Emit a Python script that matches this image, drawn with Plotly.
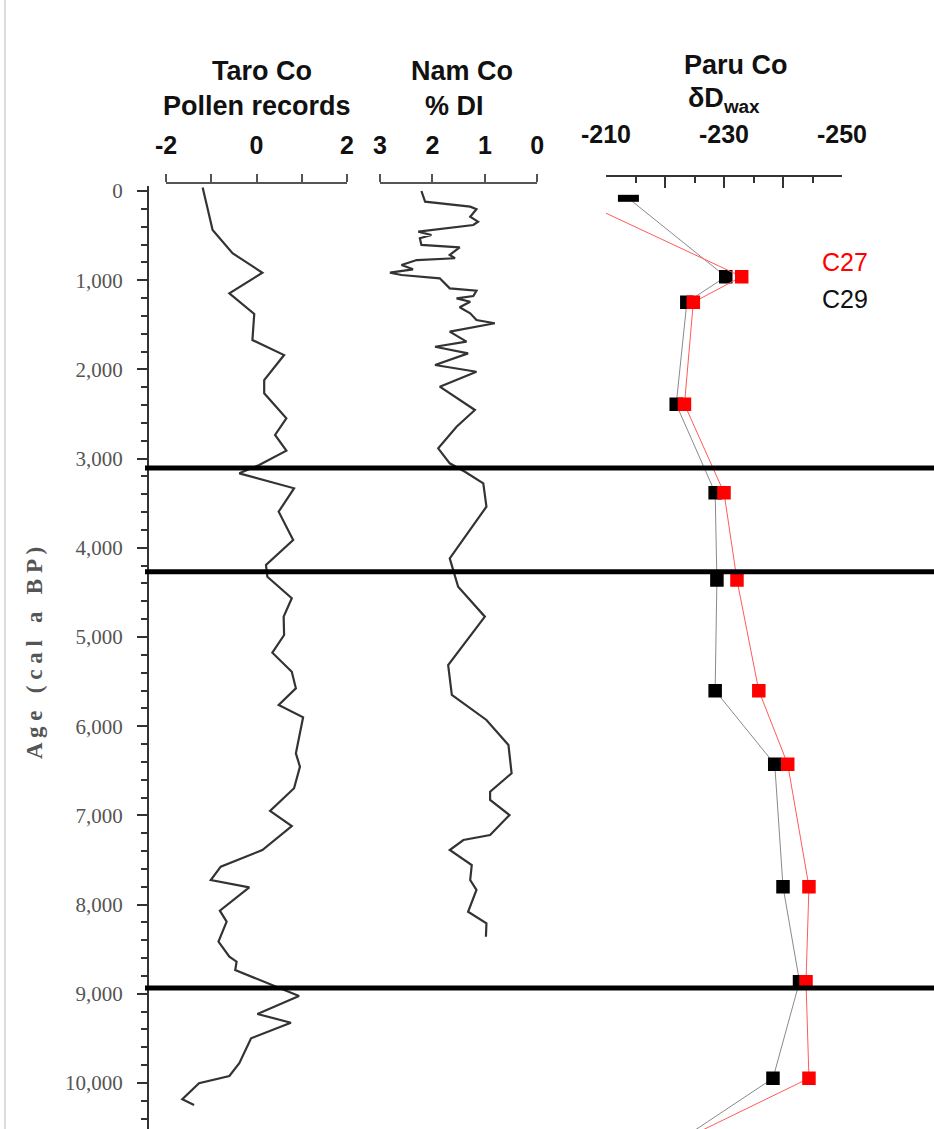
import plotly.graph_objects as go

# ---------------- data ----------------
taro_age = [-40, 437, 698, 916, 1147, 1379, 1670, 1839, 2119, 2268,
            2548, 2735, 2911, 3072, 3165, 3333, 3595, 3913, 4193, 4324,
            4566, 4772, 4978, 5176, 5389, 5575, 5762, 5900, 6304, 6454,
            6696, 6950, 7119, 7388, 7575, 7724, 7806, 8068, 8191, 8416,
            8584, 8640, 8733, 8913, 9025, 9226, 9324, 9499, 9779, 9922,
            10003, 10183, 10247]
taro_pollen = [-1.19, -0.97, -0.53, 0.13, -0.60, -0.05, -0.09, 0.61, 0.17, 0.17,
               0.66, 0.41, 0.66, 0.06, -0.38, 0.83, 0.49, 0.81, 0.21, 0.24,
               0.78, 0.60, 0.61, 0.35, 0.78, 0.87, 0.49, 1.03, 0.87, 0.96,
               0.83, 0.30, 0.78, 0.13, -0.79, -1.01, -0.16, -0.81, -0.66, -0.84,
               -0.60, -0.44, -0.47, 0.39, 0.94, 0.02, 0.76, -0.12, -0.38, -0.60,
               -1.27, -1.64, -1.38]

nam_age = [0, 120, 176, 205, 288, 344, 381, 456, 493, 530,
           605, 631, 717, 754, 774, 830, 878, 916, 942, 979,
           1091, 1118, 1177, 1203, 1241, 1304, 1371, 1446, 1483, 1577,
           1689, 1746, 1820, 1951, 2026, 2194, 2455, 2642, 2885, 3053,
           3147, 3277, 3539, 4118, 4436, 4772, 5314, 5650, 5930, 6211,
           6528, 6734, 6827, 6996, 7220, 7276, 7388, 7556, 7724, 7836,
           8080, 8210, 8360]
nam_di = [2.21, 2.14, 1.28, 1.16, 1.28, 1.13, 1.22, 2.27, 2.02, 2.24,
          2.21, 1.48, 1.67, 1.57, 2.30, 2.59, 2.37, 2.81, 2.59, 1.86,
          1.67, 1.16, 1.22, 1.54, 1.28, 1.48, 1.28, 1.16, 0.81, 1.67,
          1.35, 1.95, 1.32, 1.95, 1.16, 1.86, 1.19, 1.54, 1.89, 1.67,
          1.38, 1.03, 0.97, 1.67, 1.51, 1.00, 1.70, 1.63, 0.97, 0.55,
          0.49, 0.90, 0.90, 0.53, 0.90, 1.41, 1.67, 1.25, 1.28, 1.16,
          1.32, 0.97, 0.98]

paru_age = [82, 960, 1248, 2392, 3382, 4361, 5602, 6427, 7799, 8864, 9947, 10800]
paru_c29 = [-213.8, -230.3, -223.7, -221.9, -228.5, -228.8, -228.5, -238.6, -240.0, -242.8, -238.3, -218.9]
paru_c27 = [-204.6, -233.0, -224.8, -223.3, -230.0, -232.2, -235.9, -240.8, -244.4, -243.9, -244.4, -217.9]

boundary_ages = [3105, 4268, 8935]

taro_ticks = [-2, 0, 2]
taro_ticktext = ["-2", "0", "2"]
taro_minor = [-1, 1]
nam_ticks = [3, 2, 1, 0]
nam_ticktext = ["3", "2", "1", "0"]
paru_ticks = [-210, -230, -250]
paru_ticktext = ["-210", "-230", "-250"]
paru_mid = [-220, -240]
paru_minor = [-215, -225, -235, -245]

# ---------------- layout helpers ----------------
W, H = 934, 1129
def px(x):
    return x / W
def py(y):
    return 1 - y / H

AGE0_PX = 191.0      # pixel row of age 0
PX_PER_YR = 0.0892   # pixels per year
def age_at(pix):
    return (pix - AGE0_PX) / PX_PER_YR

SANS = "Liberation Sans, Arial, sans-serif"
SERIF = "Liberation Serif, Times New Roman, serif"

fig = go.Figure()

fig.add_trace(go.Scatter(x=taro_pollen, y=taro_age, xaxis="x", yaxis="y",
                         mode="lines", line=dict(color="#333333", width=2.2),
                         hoverinfo="skip"))
fig.add_trace(go.Scatter(x=nam_di, y=nam_age, xaxis="x2", yaxis="y",
                         mode="lines", line=dict(color="#333333", width=2.2),
                         hoverinfo="skip"))

n = len(paru_age)
fig.add_trace(go.Scatter(x=paru_c29, y=paru_age, xaxis="x3", yaxis="y",
                         mode="lines+markers",
                         line=dict(color="#8a8a8a", width=1),
                         marker=dict(color="#000000", opacity=1,
                                     symbol=["line-ew"] + ["square"] * (n - 1),
                                     size=[15] + [12] * (n - 1),
                                     line=dict(color="#000000", width=[7] + [1.5] * (n - 1))),
                         hoverinfo="skip"))
fig.add_trace(go.Scatter(x=paru_c27, y=paru_age, xaxis="x3", yaxis="y",
                         mode="lines+markers",
                         line=dict(color="#ff5a5a", width=1),
                         marker=dict(color="#ff0000", symbol="square", size=12, opacity=1,
                                     line=dict(color="#ff0000", width=1.5)),
                         hoverinfo="skip"))

top_axis_common = dict(anchor="free", side="top", showline=True, showgrid=False,
                       zeroline=False, tickwidth=2, linewidth=2, automargin=False,
                       tickfont=dict(family=SANS, size=25, color="#111111", weight="bold"))

fig.update_layout(
    width=W, height=H,
    margin=dict(l=0, r=0, t=0, b=0, pad=0, autoexpand=False),
    paper_bgcolor="white", plot_bgcolor="rgba(0,0,0,0)",
    showlegend=False,
    xaxis=dict(domain=[px(166), px(347)], range=[-2, 2], position=py(183),
               linecolor="#555555", tickcolor="#555555", ticks="outside", ticklen=8,
               tickvals=taro_ticks, ticktext=taro_ticktext, ticklabelstandoff=10,
               minor=dict(tickvals=taro_minor, ticks="outside", ticklen=8,
                          tickcolor="#555555", tickwidth=2),
               **top_axis_common),
    xaxis2=dict(domain=[px(380), px(537.3)], range=[3, 0], position=py(183),
                linecolor="#555555", tickcolor="#555555", ticks="outside", ticklen=8,
                tickvals=nam_ticks, ticktext=nam_ticktext, ticklabelstandoff=10,
                **top_axis_common),
    xaxis3=dict(domain=[px(606), px(842)], range=[-210, -250], position=py(176),
                linecolor="#333333", tickcolor="#333333", ticks="inside", ticklen=11,
                tickvals=paru_ticks, ticktext=paru_ticktext, ticklabelstandoff=22,
                minor=dict(tickvals=paru_minor, ticks="inside", ticklen=6,
                           tickcolor="#333333", tickwidth=2),
                **top_axis_common),
    xaxis4=dict(domain=[px(606), px(842)], range=[-210, -250], overlaying="x3",
                anchor="free", position=py(176), side="top", showline=False,
                showgrid=False, zeroline=False, automargin=False,
                ticks="inside", ticklen=11, tickwidth=2, tickcolor="#333333",
                tickvals=paru_mid, showticklabels=False),
    yaxis=dict(domain=[0, py(186)], range=[age_at(H), age_at(186)],
               anchor="free", position=px(148), side="left", automargin=False,
               showline=True, linecolor="#333333", linewidth=2,
               showgrid=False, zeroline=False,
               ticks="outside", ticklen=10, tickwidth=2, tickcolor="#333333",
               tick0=0, dtick=1000, tickformat=",d",
               minor=dict(dtick=200, ticks="outside", ticklen=6,
                          tickcolor="#333333", tickwidth=2),
               tickfont=dict(family=SERIF, size=21, color="#555555"),
               ticklabelstandoff=10),
)

# invisible helper trace so the mid-tick axis is drawn
fig.add_trace(go.Scatter(x=[None], y=[None], xaxis="x4", yaxis="y",
                         mode="lines", hoverinfo="skip", showlegend=False))

# thick horizontal boundaries
for a in boundary_ages:
    fig.add_shape(type="line", xref="paper", yref="y", x0=px(145), x1=1,
                  y0=a, y1=a, line=dict(color="black", width=5), layer="above")

# faint left border
fig.add_shape(type="line", xref="paper", yref="paper", x0=px(5), x1=px(5),
              y0=0, y1=1, line=dict(color="#dcdcdc", width=2))

def ann(text, x, y, size, color="#111111", bold=True, family=SANS, xanchor="center", angle=0):
    fig.add_annotation(text=("<b>%s</b>" % text) if bold else text,
                       x=px(x), y=py(y), xref="paper", yref="paper",
                       xanchor=xanchor, yanchor="middle", showarrow=False,
                       textangle=angle,
                       font=dict(family=family, size=size, color=color))

NB = "\u00a0"
ann("Taro Co", 262, 71, 27)
ann("Pollen records", 257, 106, 27)
ann("Nam Co", 462, 71, 27)
ann("% DI", 454, 106, 27)
ann("Paru Co", 736, 65, 27)
ann("δD<sub>wax</sub>", 724, 100, 27)
ann("C27", 820, 262, 25, color="#ff0000", bold=False, xanchor="left")
ann("C29", 820, 299, 25, color="#111111", bold=False, xanchor="left")
age_title = "A g e" + NB * 3 + "( c a l" + NB * 3 + "a" + NB * 3 + "B P )"
ann(age_title, 34, 653, 23, color="#555555", bold=True, family=SERIF, angle=-90)

fig.write_html("out.html")
